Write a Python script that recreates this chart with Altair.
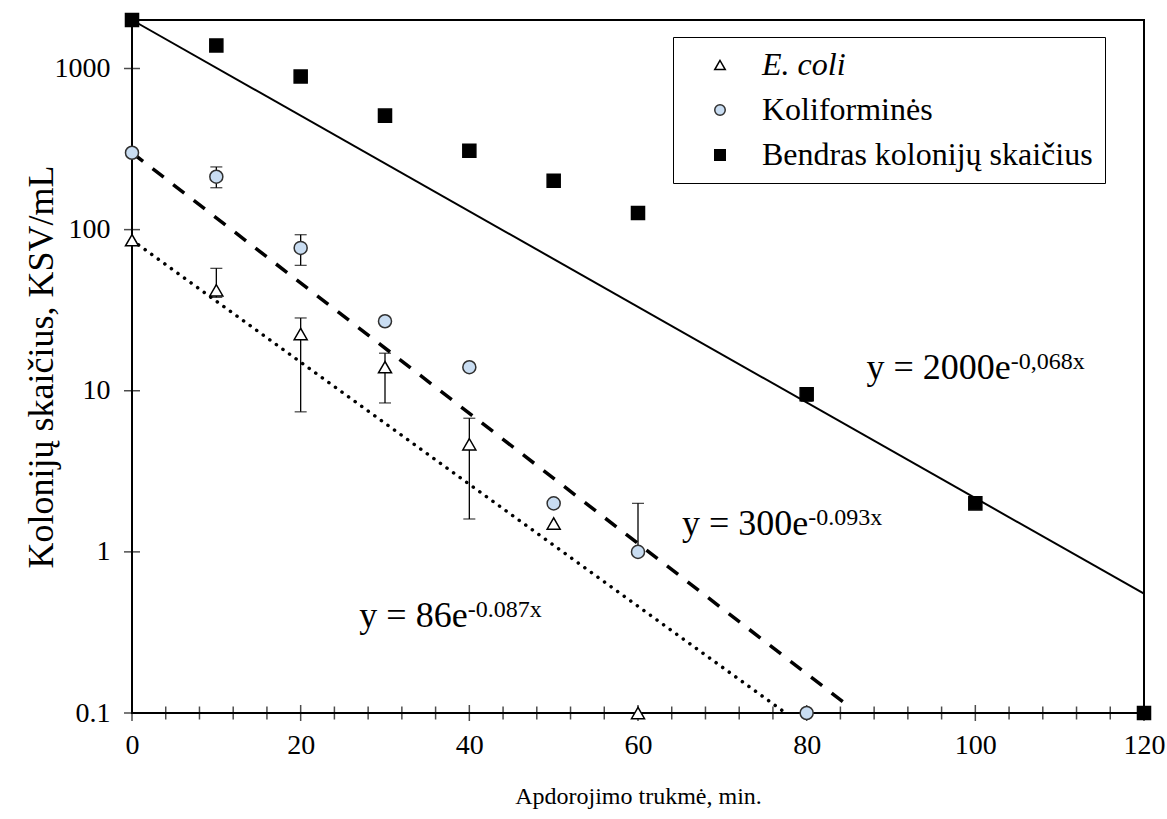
import altair as alt
import pandas as pd

series_names = ["E. coli", "Koliforminės", "Bendras kolonijų skaičius"]

# E. coli (triangles)
ecoli_x = [0, 10, 20, 30, 40, 50, 60]
ecoli_y = [86, 42, 22.5, 14, 4.65, 1.5, 0.1]
ecoli_err_x = [10, 20, 30, 40]
ecoli_err_lo = [38, 7.4, 8.4, 1.6]
ecoli_err_hi = [57.5, 28.3, 17.1, 6.75]

# Koliforminės (circles)
koli_x = [0, 10, 20, 30, 40, 50, 60, 80]
koli_y = [300, 213, 77, 27, 14, 2.0, 1.0, 0.1]
koli_err_x = [10, 20, 60]
koli_err_lo = [182, 60, 1.0]
koli_err_hi = [245, 93, 2.0]

# Bendras kolonijų skaičius (squares)
bend_x = [0, 10, 20, 30, 40, 50, 60, 80, 100, 120]
bend_y = [2000, 1390, 892, 510, 309, 201, 127, 9.5, 2.0, 0.1]
bend_err_x = [80]
bend_err_lo = [8.6]
bend_err_hi = [10.4]

# trend line end points
trend_ecoli_x = [0, 77.5]
trend_ecoli_y = [86, 0.1]
trend_koli_x = [0, 85]
trend_koli_y = [300, 0.11]
trend_bend_x = [0, 120]
trend_bend_y = [2000, 0.55]

# equations (anchor = end of the main text, on its baseline)
eq_x = [104.2, 80.2, 39.8]
eq_y = [11.8, 1.28, 0.343]
eq_main = ["y = 2000e", "y = 300e", "y = 86e"]
eq_sup = ["-0,068x", "-0.093x", "-0.087x"]

# axis ticks
x_tick_major = [0, 20, 40, 60, 80, 100, 120]
x_tick_minor = [4, 8, 12, 16, 24, 28, 32, 36, 44, 48, 52, 56, 64, 68, 72, 76,
                84, 88, 92, 96, 104, 108, 112, 116]
y_ticks = [0.1, 1, 10, 100, 1000]

FONT = "Liberation Serif"

# ---------- tables ----------
pts = pd.concat([
    pd.DataFrame({"x": ecoli_x, "y": ecoli_y, "series": series_names[0]}),
    pd.DataFrame({"x": koli_x, "y": koli_y, "series": series_names[1]}),
    pd.DataFrame({"x": bend_x, "y": bend_y, "series": series_names[2]}),
], ignore_index=True)

err = pd.concat([
    pd.DataFrame({"x": ecoli_err_x, "lo": ecoli_err_lo, "hi": ecoli_err_hi}),
    pd.DataFrame({"x": koli_err_x, "lo": koli_err_lo, "hi": koli_err_hi}),
    pd.DataFrame({"x": bend_err_x, "lo": bend_err_lo, "hi": bend_err_hi}),
], ignore_index=True)

tr_e = pd.DataFrame({"x": trend_ecoli_x, "y": trend_ecoli_y})
tr_k = pd.DataFrame({"x": trend_koli_x, "y": trend_koli_y})
tr_b = pd.DataFrame({"x": trend_bend_x, "y": trend_bend_y})

eq = pd.DataFrame({"x": eq_x, "y": eq_y, "main": eq_main, "sup": eq_sup})

xt_major = pd.DataFrame({"x": x_tick_major, "y": min(y_ticks)})
xt_minor = pd.DataFrame({"x": x_tick_minor, "y": min(y_ticks)})
yt = pd.DataFrame({"x": min(x_tick_major), "y": y_ticks})

xs = alt.Scale(domain=[0, 120], nice=False, zero=False)
ys = alt.Scale(type="log", domain=[0.1, 2000], nice=False)

x_axis = alt.Axis(values=x_tick_major, ticks=False, domain=False, grid=False,
                  labelFontSize=28, labelPadding=18, labelFlush=False,
                  labelOverlap=False, title="Apdorojimo trukmė, min.",
                  titleFontSize=24, titlePadding=25)
y_axis = alt.Axis(values=y_ticks, format="~g", ticks=False, domain=False,
                  grid=False, labelFontSize=28, labelPadding=22,
                  labelFlush=False, labelOverlap=False,
                  title="Kolonijų skaičius, KSV/mL", titleFontSize=36,
                  titlePadding=-6)


def X(field="x"):
    return alt.X(f"{field}:Q", scale=xs, axis=x_axis)


def Y(field="y"):
    return alt.Y(f"{field}:Q", scale=ys, axis=y_axis)


line_b = alt.Chart(tr_b).mark_line(color="black", strokeWidth=2).encode(x=X(), y=Y())
line_k = alt.Chart(tr_k).mark_line(color="black", strokeWidth=3.5,
                                   strokeDash=[14, 12]).encode(x=X(), y=Y())
line_e = alt.Chart(tr_e).mark_line(color="black", strokeWidth=3.5,
                                   strokeDash=[0.1, 8], strokeCap="round").encode(x=X(), y=Y())

err_rule = alt.Chart(err).mark_rule(color="black", strokeWidth=1.3).encode(
    x=X(), y=Y("lo"), y2="hi:Q")
cap_lo = alt.Chart(err).mark_tick(orient="horizontal", size=12, thickness=1.3,
                                  color="black").encode(x=X(), y=Y("lo"))
cap_hi = alt.Chart(err).mark_tick(orient="horizontal", size=12, thickness=1.3,
                                  color="black").encode(x=X(), y=Y("hi"))

tick_major = alt.Chart(xt_major).mark_tick(orient="vertical", size=16, thickness=1.5,
                                           color="black").encode(x=X(), y=Y())
tick_minor = alt.Chart(xt_minor).mark_tick(orient="vertical", size=13, thickness=1.5,
                                           color="black").encode(x=X(), y=Y())
tick_y = alt.Chart(yt).mark_tick(orient="horizontal", size=16, thickness=1.5,
                                 color="black").encode(x=X(), y=Y())

legend = alt.Legend(title=None, orient="none", legendX=541, legendY=17,
                    strokeColor="black", fillColor="white", padding=12,
                    rowPadding=13, labelFont=FONT, labelFontSize=32,
                    labelColor="black", symbolSize=110, symbolStrokeWidth=1.5,
                    symbolOffset=19, labelOffset=26, labelLimit=600,
                    labelFontStyle={"expr": "datum.value == 'E. coli' ? 'italic' : 'normal'"})

points = alt.Chart(pts).mark_point(filled=False, opacity=1, strokeWidth=1.5,
                                   size=170).encode(
    x=X(), y=Y(),
    shape=alt.Shape("series:N", sort=series_names,
                    scale=alt.Scale(domain=series_names,
                                    range=["triangle-up", "circle", "square"]),
                    legend=legend),
    fill=alt.Fill("series:N", sort=series_names,
                  scale=alt.Scale(domain=series_names,
                                  range=["white", "#c9ddf2", "black"]),
                  legend=legend),
    stroke=alt.Stroke("series:N", sort=series_names,
                      scale=alt.Scale(domain=series_names,
                                      range=["black", "#303030", "black"]),
                      legend=legend),
)

eq_main_t = alt.Chart(eq).mark_text(font=FONT, fontSize=36, align="right",
                                    baseline="alphabetic", color="black").encode(
    x=X(), y=Y(), text="main:N")
eq_sup_t = alt.Chart(eq).mark_text(font=FONT, fontSize=24, align="left",
                                   baseline="alphabetic", dy=-10, color="black").encode(
    x=X(), y=Y(), text="sup:N")

chart = alt.layer(
    line_b, line_k, line_e, err_rule, cap_lo, cap_hi,
    tick_major, tick_minor, tick_y, points, eq_main_t, eq_sup_t
).properties(
    width=1012, height=693,
    autosize=alt.AutoSizeParams(type="none"),
    padding={"left": 132, "top": 20, "right": 23, "bottom": 106},
).configure(font=FONT).configure_view(
    stroke="black", strokeWidth=2
).configure_axis(
    labelColor="black", titleColor="black", titleFontWeight="normal",
    labelFont=FONT, titleFont=FONT
)

chart.save("out.html", embed_options={"renderer": "svg", "actions": False})
